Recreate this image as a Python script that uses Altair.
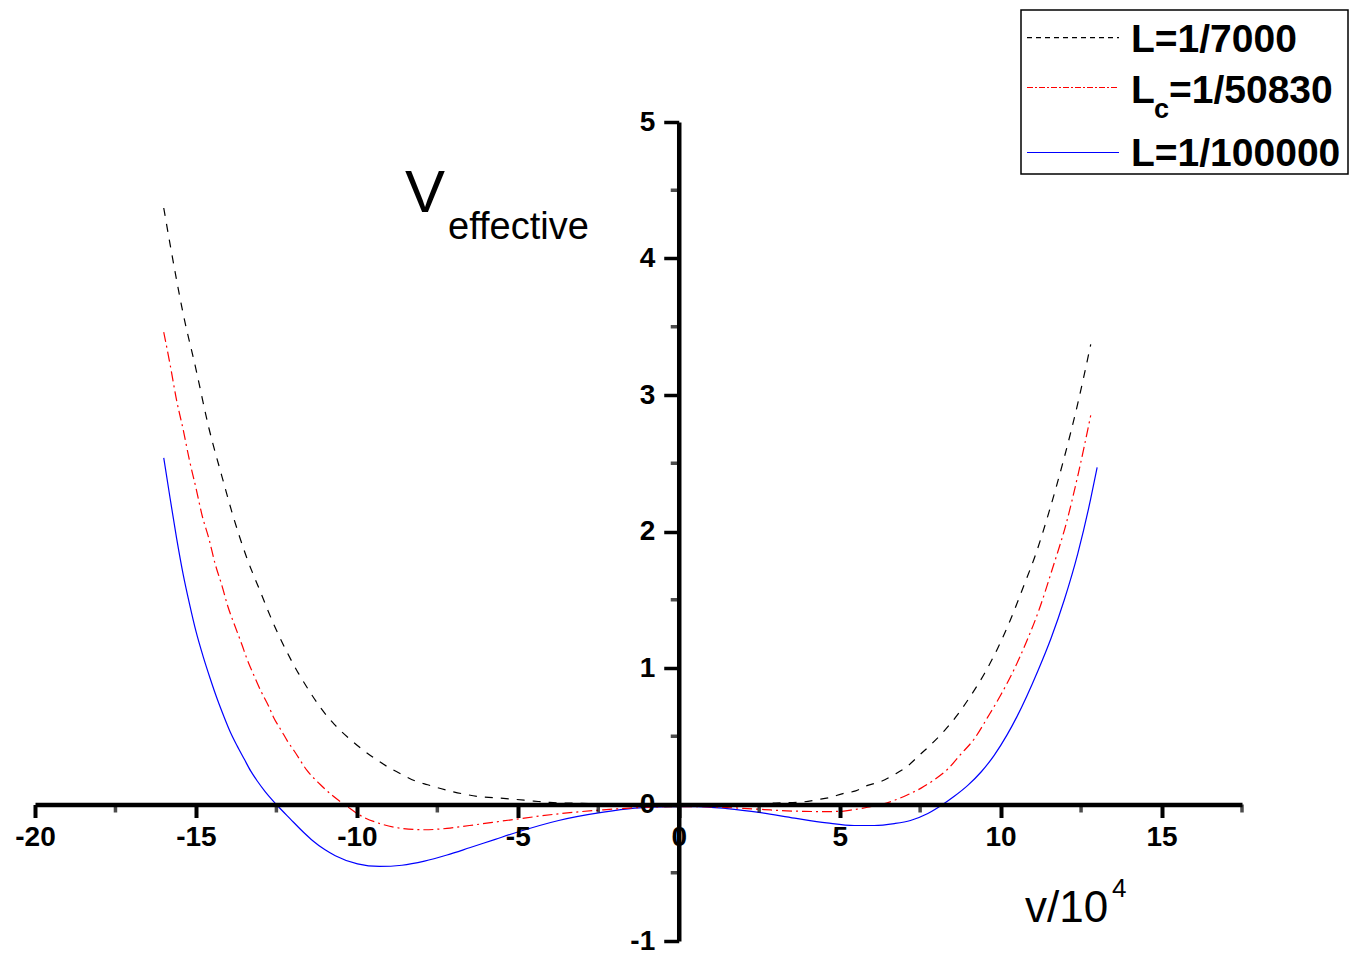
import altair as alt
import pandas as pd

FONT = "Liberation Sans"

# ---------------- data ----------------
x_black = [-16.0, -15.8, -15.4, -15.0, -14.6, -14.2, -13.86, -13.44, -13.0, -12.6, -12.2, -11.8,
           -11.5, -11.1, -10.7, -10.25, -9.84, -9.42, -9.0, -8.6, -8.2, -7.8, -7.4, -7.0, -6.6,
           -6.2, -5.75, -5.1, -4.5, -4.0, -3.0, -2.0, -1.0, 0.0, 1.0, 2.0, 3.0, 3.9, 4.3, 4.67,
           5.1, 5.5, 5.87, 6.3, 6.7, 7.1, 7.47, 7.84, 8.25, 8.67, 9.08, 9.5, 9.9, 10.3, 10.7,
           11.1, 11.5, 11.93, 12.4, 12.8]
y_black = [4.37, 4.10, 3.60, 3.19, 2.76, 2.41, 2.125, 1.82, 1.56, 1.33, 1.13, 0.955,
           0.84, 0.70, 0.587, 0.486, 0.405, 0.333, 0.27, 0.22, 0.174, 0.145, 0.117, 0.093, 0.073,
           0.058, 0.05, 0.038, 0.025, 0.015, 0.008, 0.004, 0.001, 0.0, 0.001, 0.004, 0.01, 0.02, 0.035, 0.05,
           0.08, 0.10, 0.14, 0.17, 0.22, 0.28, 0.36, 0.44, 0.54, 0.66, 0.80, 0.96, 1.14, 1.35, 1.59,
           1.84, 2.14, 2.50, 2.94, 3.37]

x_red = [-16.0, -15.8, -15.6, -15.4, -15.2, -15.0, -14.8, -14.6, -14.4, -14.2, -14.0, -13.8,
         -13.57, -13.42, -13.16, -13.0, -12.74, -12.59, -12.33, -12.17, -11.94, -11.55, -11.13,
         -10.72, -10.3, -9.98, -9.28, -8.6, -7.9, -7.2, -6.5, -5.13, -3.73, -2.34, -0.96, 0.0,
         1.0, 2.0, 2.65, 3.2, 3.9, 4.5, 5.04, 5.45, 5.87, 6.28, 6.7, 7.1, 7.53, 7.93, 8.36, 8.77,
         9.18, 9.6, 10.0, 10.4, 10.8, 11.2, 11.6, 12.04, 12.4, 12.8]
y_red = [3.46, 3.22, 2.96, 2.75, 2.52, 2.32, 2.11, 1.95, 1.76, 1.61, 1.445, 1.315,
         1.17, 1.07, 0.925, 0.84, 0.72, 0.64, 0.535, 0.47, 0.39, 0.25, 0.145,
         0.058, -0.014, -0.068, -0.14, -0.175, -0.185, -0.175, -0.154, -0.11, -0.068, -0.039, -0.02, -0.015,
         -0.018, -0.028, -0.037, -0.045, -0.05, -0.052, -0.05, -0.037, -0.02, 0.0, 0.03, 0.07, 0.12, 0.18, 0.26, 0.37,
         0.48, 0.64, 0.80, 0.98, 1.19, 1.43, 1.72, 2.06, 2.41, 2.85]

x_blue = [-16.0, -15.8, -15.6, -15.4, -15.2, -15.0, -14.77, -14.56, -14.35, -14.14, -13.94, -13.73,
          -13.5, -13.3, -13.1, -12.85, -12.5, -12.07, -11.65, -11.37, -11.0, -10.67, -9.98, -9.3,
          -8.6, -7.9, -7.2, -6.5, -5.7, -4.98, -3.73, -2.34, -1.37, -0.26, 0.56, 1.5, 2.55, 3.6,
          4.6, 5.45, 6.07, 6.7, 7.2, 7.74, 8.2, 8.56, 8.98, 9.4, 9.8, 10.2, 10.5, 11.16, 11.57,
          11.98, 12.4, 12.8, 13.0]
y_blue = [2.54, 2.24, 1.95, 1.69, 1.47, 1.27, 1.08, 0.925, 0.78, 0.65, 0.535, 0.434,
          0.333, 0.246, 0.174, 0.095, 0.0, -0.105, -0.205, -0.265, -0.33, -0.375, -0.435, -0.454,
          -0.445, -0.415, -0.37, -0.317, -0.255, -0.20, -0.117, -0.056, -0.027, -0.015, -0.015, -0.03, -0.06, -0.10,
          -0.135, -0.154, -0.154, -0.14, -0.117, -0.066, 0.0, 0.06, 0.14, 0.24, 0.36, 0.51, 0.64, 0.98, 1.22,
          1.50, 1.84, 2.24, 2.47]

x_major = [-20, -15, -10, -5, 0, 5, 10, 15]
x_minor = [-17.5, -12.5, -7.5, -2.5, 2.5, 7.5, 12.5, 17.5]
y_major = [-1, 0, 1, 2, 3, 4, 5]
y_minor = [-0.5, 0.5, 1.5, 2.5, 3.5, 4.5]

legend_main = ["L", "L", "L"]
legend_sub = ["", "c", ""]
legend_rest = ["=1/7000", "=1/50830", "=1/100000"]

# ---------------- layout ----------------
W, H = 1207, 819
XMIN, XMAX = -20, 17.5
YMIN, YMAX = -1, 5
x0_px = W * (0 - XMIN) / (XMAX - XMIN)
y0_from_bottom = H * (0 - YMIN) / (YMAX - YMIN)

xs = alt.Scale(domain=[XMIN, XMAX], nice=False, zero=False)
ys = alt.Scale(domain=[YMIN, YMAX], nice=False, zero=False)

xaxis = alt.Axis(values=x_major, orient="bottom", offset=-y0_from_bottom, domainColor="black",
                 domainWidth=4.5, tickColor="black", tickWidth=4, tickSize=13, labelFontSize=28,
                 labelFont=FONT, labelFontWeight="bold", labelColor="black", labelPadding=6,
                 labelExpr="'' + datum.value",
                 labelOverlap=False, labelFlush=False, grid=False, title=None, zindex=1)
yaxis = alt.Axis(values=y_major, orient="left", offset=-x0_px, domainColor="black",
                 domainWidth=4.5, tickColor="black", tickWidth=3.5, tickSize=15, labelFontSize=28,
                 labelFont=FONT, labelFontWeight="bold", labelColor="black", labelPadding=9,
                 labelExpr="'' + datum.value",
                 labelOverlap=False, labelFlush=False, grid=False, title=None, zindex=1)

X = alt.X("v:Q", scale=xs, axis=xaxis)
Y = alt.Y("V:Q", scale=ys, axis=yaxis)


def curve(xv, yv, color, dash=None):
    mk = dict(color=color, strokeWidth=1.2, interpolate="monotone")
    if dash:
        mk["strokeDash"] = dash
    return alt.Chart(pd.DataFrame({"v": xv, "V": yv})).mark_line(**mk).encode(x=X, y=Y)


blue = curve(x_blue, y_blue, "#0000ff")
red = curve(x_red, y_red, "#ff0000", [10, 4, 2, 4])
black = curve(x_black, y_black, "#000000", [8, 8])

xmin_ticks = alt.Chart(pd.DataFrame({"v": x_minor, "V": [0] * len(x_minor)})).mark_tick(
    orient="vertical", size=8, thickness=3.5, color="black", yOffset=4).encode(x=X, y=Y)
ymin_ticks = alt.Chart(pd.DataFrame({"v": [0] * len(y_minor), "V": y_minor})).mark_tick(
    orient="horizontal", size=8, thickness=3.5, color="black", xOffset=-4).encode(x=X, y=Y)


def txt(s, x, y, size, weight="normal"):
    return alt.Chart(pd.DataFrame({"t": [s]})).mark_text(
        align="left", baseline="alphabetic", font=FONT, fontSize=size, fontWeight=weight,
        color="black"
    ).encode(text="t:N", x=alt.value(x), y=alt.value(y))


one = pd.DataFrame({"a": [0]})
legend_box = alt.Chart(one).mark_rect(fill="white", stroke="black", strokeWidth=1.5).encode(
    x=alt.value(986), x2=alt.value(1313), y=alt.value(-112), y2=alt.value(52))
leg_y = [-84.3, -34.5, 30.5]
leg_base = [-70, -19.4, 44]
leg_styles = [("#000000", [5, 4]), ("#ff0000", [6, 2, 2, 2]), ("#0000ff", None)]
leg_lines = []
leg_text = []
for yy, bb, (c, d), m, sb, r in zip(leg_y, leg_base, leg_styles, legend_main, legend_sub, legend_rest):
    mk = dict(color=c, strokeWidth=1.2)
    if d:
        mk["strokeDash"] = d
    leg_lines.append(alt.Chart(one).mark_rule(**mk).encode(
        x=alt.value(992), x2=alt.value(1084), y=alt.value(yy)))
    if sb:
        leg_text.append(txt(m, 1096, bb, 39, "bold"))
        leg_text.append(txt(sb, 1119, bb + 15, 27, "bold"))
        leg_text.append(txt(r, 1134, bb, 39, "bold"))
    else:
        leg_text.append(txt(m + r, 1096, bb, 39, "bold"))

titles = [
    txt("V", 370, 90, 60),
    txt("effective", 413, 117, 38),
    txt("v/10", 990, 800, 44),
    txt("4", 1077, 775, 26),
]

chart = alt.layer(
    blue, red, black, xmin_ticks, ymin_ticks, *titles, legend_box, *leg_lines, *leg_text
).properties(
    width=W, height=H,
    autosize=alt.AutoSizeParams(type="none"),
    padding={"left": 27, "top": 114, "right": 120, "bottom": 19},
    background="white",
).configure_view(strokeWidth=0)

chart.save("out.html", embed_options={"renderer": "svg", "actions": False})
